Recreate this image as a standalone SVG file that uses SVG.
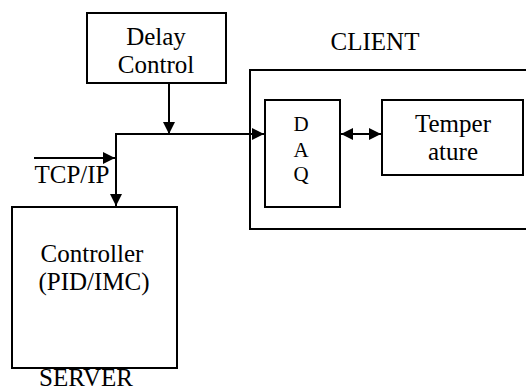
<svg xmlns="http://www.w3.org/2000/svg" width="526" height="390" viewBox="0 0 526 390">
  <defs>
    <marker id="arrow" viewBox="0 0 12 12" refX="12" refY="6" markerWidth="12" markerHeight="12" markerUnits="userSpaceOnUse" orient="auto-start-reverse">
      <path d="M0,0 L12,6 L0,12 Z" fill="#000"/>
    </marker>
  </defs>
  <style>
    .box { fill: #fff; stroke: #000; stroke-width: 2; }
    .line { fill: none; stroke: #000; stroke-width: 2; }
  </style>
  <rect width="526" height="390" fill="#fff"/>

  <g font-family="Liberation Serif, Times New Roman, DejaVu Serif, serif" font-size="25" fill="#000" text-anchor="middle">
    <!-- client frame (runs off the right edge) -->
    <g id="client">
      <rect class="box" x="250" y="70" width="290" height="159"/>
      <text x="375" y="50">CLIENT</text>
    </g>

    <g id="delay-control">
      <rect class="box" x="87" y="13" width="139" height="70"/>
      <text x="156" y="45">Delay</text>
      <text x="156" y="73">Control</text>
    </g>

    <g id="daq">
      <rect class="box" x="265" y="100" width="75" height="107"/>
      <text font-size="21" x="301" y="131">D</text>
      <text font-size="21" x="301" y="157">A</text>
      <text font-size="21" x="301" y="181">Q</text>
    </g>

    <g id="temperature">
      <rect class="box" x="382" y="100" width="141" height="75"/>
      <text x="453" y="132">Temper</text>
      <text x="453" y="160">ature</text>
    </g>

    <g id="server">
      <rect class="box" x="12" y="207" width="165" height="161"/>
      <text x="92" y="262">Controller</text>
      <text x="94" y="290">(PID/IMC)</text>
      <text x="86" y="386">SERVER</text>
    </g>

    <g id="tcp-label">
      <text x="72" y="183">TCP/IP</text>
    </g>
  </g>

  <g id="connectors">
    <!-- delay control into the network line -->
    <path class="line" d="M169,83 V134" marker-end="url(#arrow)"/>
    <!-- network line to the DAQ -->
    <path class="line" d="M116,134 H264" marker-end="url(#arrow)"/>
    <!-- network line down to the server -->
    <path class="line" d="M116,133 V206" marker-end="url(#arrow)"/>
    <!-- TCP/IP input -->
    <path class="line" d="M34,158 H115" marker-end="url(#arrow)"/>
    <!-- DAQ to temperature, both ways -->
    <path class="line" d="M341,134 H381" marker-start="url(#arrow)" marker-end="url(#arrow)"/>
  </g>
</svg>
